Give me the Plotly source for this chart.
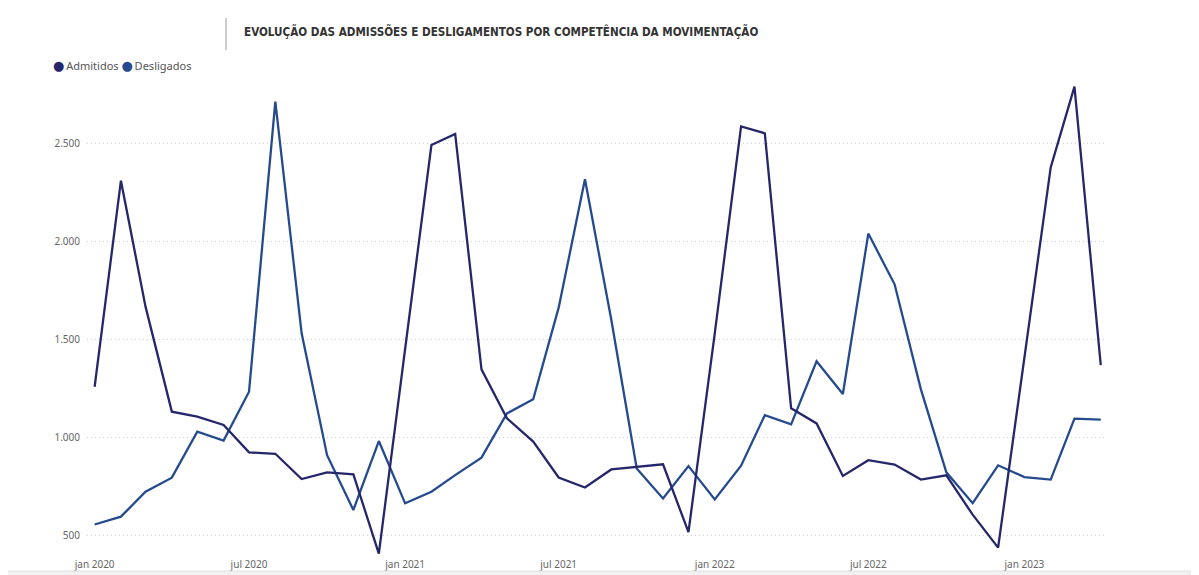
import pandas as pd
import plotly.graph_objects as go

# --- Data ---
months = pd.date_range("2020-01-01", periods=40, freq="MS")

admitidos = [
    1257, 2309, 1666, 1130, 1104, 1062, 922, 915, 786, 820, 810, 405,
    1450, 2491, 2548, 1346, 1096, 977, 794, 743, 835, 849, 861, 515,
    1530, 2586, 2551, 1147, 1070, 802, 882, 860, 783, 805, 604, 436,
    1400, 2377, 2789, 1368,
]
desligados = [
    554, 594, 721, 793, 1028, 982, 1232, 2713, 1530, 908, 628, 980,
    662, 721, 806, 895, 1121, 1193, 1661, 2316, 1600, 840, 687, 852,
    682, 854, 1112, 1065, 1387, 1220, 2039, 1780, 1244, 820, 663, 856,
    796, 783, 1094, 1089,
]

x_tick_vals = ["2020-01-01", "2020-07-01", "2021-01-01", "2021-07-01",
               "2022-01-01", "2022-07-01", "2023-01-01"]
x_tick_text = ["jan 2020", "jul 2020", "jan 2021", "jul 2021",
               "jan 2022", "jul 2022", "jan 2023"]
y_tick_vals = [500, 1000, 1500, 2000, 2500]
y_tick_text = ["500", "1.000", "1.500", "2.000", "2.500"]

TITLE = "EVOLUÇÃO DAS ADMISSÕES E DESLIGAMENTOS POR COMPETÊNCIA DA MOVIMENTAÇÃO"
COLOR_ADM = "#26266a"
COLOR_DES = "#254b8e"
FONT = "Noto Sans"

# the page puts the figure 8px in from the top-left corner,
# so margins are trimmed by that much
OFF = 8
L, T, PW, PH = 87 - OFF, 80 - OFF, 1018, 477
W, H = 1199, 575


def px_x(x):
    return (x - OFF - L) / PW


def px_y(y):
    return 1 - (y - OFF - T) / PH


fig = go.Figure()

fig.add_trace(
    go.Scatter(
        x=months,
        y=desligados,
        name="Desligados",
        mode="lines",
        line=dict(color=COLOR_DES, width=2.3),
    )
)
fig.add_trace(
    go.Scatter(
        x=months,
        y=admitidos,
        name="Admitidos",
        mode="lines",
        line=dict(color=COLOR_ADM, width=2.3),
    )
)

# legend drawn as text, like the Power BI one (dot close to the label)
DOT = "font-family:DejaVu Sans;font-size:13px"
legend_text = (
    f'<span style="color:{COLOR_ADM};{DOT}">●</span>\u2009Admitidos '
    f'<span style="color:{COLOR_DES};{DOT}">●</span>\u2009Desligados'
)

fig.update_layout(
    width=W,
    height=H,
    margin=dict(l=L, r=W - L - PW, t=T, b=H - T - PH),
    paper_bgcolor="white",
    plot_bgcolor="white",
    showlegend=False,
    font=dict(family=FONT, size=10, color="#666666"),
    annotations=[
        dict(
            text=TITLE,
            xref="paper", yref="paper",
            x=px_x(242), y=px_y(31),
            xanchor="left", yanchor="middle",
            showarrow=False,
            font=dict(family="DejaVu Sans Condensed", size=11.6, color="#333333",
                      weight="bold"),
        ),
        dict(
            text=legend_text,
            xref="paper", yref="paper",
            x=px_x(51), y=px_y(66),
            xanchor="left", yanchor="middle",
            showarrow=False,
            font=dict(family=FONT, size=11, color="#555555"),
        ),
    ],
    shapes=[
        # divider left of the title
        dict(type="line", xref="paper", yref="paper",
             x0=px_x(226), x1=px_x(226), y0=px_y(18), y1=px_y(50),
             line=dict(color="#9a9a9a", width=1)),
        # grey strip along the bottom edge
        dict(type="rect", xref="paper", yref="paper",
             x0=px_x(0), x1=px_x(1199), y0=px_y(571), y1=px_y(585),
             fillcolor="#f1f1f1", line=dict(color="#e2e2e2", width=1)),
    ],
)

fig.update_xaxes(
    type="date",
    range=["2019-12-23", "2023-04-06"],
    tickvals=x_tick_vals,
    ticktext=x_tick_text,
    showgrid=False,
    showline=False,
    zeroline=False,
    ticks="",
    automargin=False,
    tickfont=dict(size=10, color="#666666"),
)
fig.update_yaxes(
    range=[388, 2823],
    tickvals=y_tick_vals,
    ticktext=y_tick_text,
    showgrid=True,
    gridcolor="#cfcfcf",
    gridwidth=1,
    griddash="1px,3px",
    showline=False,
    zeroline=False,
    ticks="",
    ticklabelstandoff=6,
    automargin=False,
    tickfont=dict(size=10, color="#666666"),
)

fig.write_html("out.html")
